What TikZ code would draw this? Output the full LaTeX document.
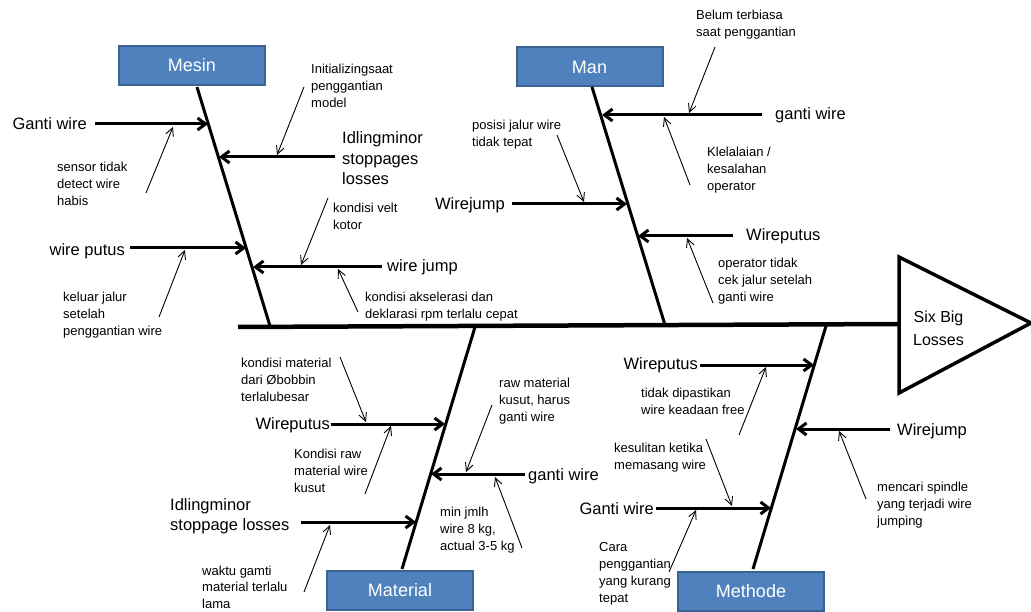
\documentclass[tikz,border=0pt]{standalone}
\usepackage{fontspec}
\setmainfont{Liberation Sans}
\usetikzlibrary{arrows.meta}
\definecolor{boxfill}{HTML}{4F81BD}
\definecolor{boxline}{HTML}{3A6391}
\tikzset{
  catbox/.style={draw=boxline, fill=boxfill, line width=2pt, minimum width=146pt, minimum height=39pt, inner sep=0pt, text=white, font=\fontsize{18}{20}\selectfont},
  bone/.style={line width=3pt},
  spine/.style={line width=4.5pt},
  branch/.style={line width=3pt, -{Straight Barb[length=8pt,width=12pt]}},
  sub/.style={line width=0.9pt, -{Straight Barb[length=8pt,width=8pt]}},
  bigtxt/.style={inner sep=0pt, font=\fontsize{16.5}{20.5}\selectfont},
  bigmulti/.style={anchor=north west, inner sep=0pt, align=left, font=\fontsize{16.5}{20.5}\selectfont},
  subtxt/.style={anchor=north west, inner sep=0pt, align=left, font=\fontsize{13}{17}\selectfont},
  headtxt/.style={inner sep=0pt, align=center, font=\fontsize{16}{23}\selectfont},
}
\begin{document}
\begin{tikzpicture}[x=1pt,y=-1pt]
\path[use as bounding box, fill=white] (0,0) rectangle (1031,612);

% head and spine
\coordinate (hA) at (899,257);
\coordinate (hB) at (1031,323);
\coordinate (hC) at (899,393);
\draw[line width=3.5pt] (hA) -- (hB) -- (hC) -- cycle;
\node[headtxt] (head) at (938.5,328) {Six Big\\Losses};
\coordinate (sp0) at (238,327);
\coordinate (sp1) at (899,324);
\draw[spine] (sp0) -- (sp1);

% category boxes
\node[catbox] (mesin) at (192,65.5) {Mesin};
\node[catbox] (man) at (589.5,67) {Man};
\node[catbox] (material) at (400,590.5) {Material};
\node[catbox] (methode) at (751,591) {Methode};

% bones
\coordinate (b1t) at (197,87);  \coordinate (b1b) at (270,326);
\coordinate (b2t) at (592,87);  \coordinate (b2b) at (665,325);
\coordinate (b3t) at (402,569); \coordinate (b3b) at (475,327);
\coordinate (b4t) at (753,569); \coordinate (b4b) at (826,326);
\draw[bone] (b1t) -- (b1b);
\draw[bone] (b2t) -- (b2b);
\draw[bone] (b3t) -- (b3b);
\draw[bone] (b4t) -- (b4b);

%================ MESIN
\node[bigtxt, anchor=base east] (m1) at (87,130) {Ganti wire};
\coordinate (m1s) at (95,124); \coordinate (m1e) at (208,124);
\draw[branch] (m1s) -- (m1e);
\node[subtxt] (m1a) at (57,162) {sensor tidak\\detect wire\\habis};
\coordinate (m1as) at (146,193); \coordinate (m1ae) at (173,127);
\draw[sub] (m1as) -- (m1ae);

\node[bigmulti] (m2) at (342,131.5) {Idlingminor\\stoppages\\losses};
\coordinate (m2s) at (335,157); \coordinate (m2e) at (219,157);
\draw[branch] (m2s) -- (m2e);
\node[subtxt] (m2a) at (311,64) {Initializingsaat\\penggantian\\model};
\coordinate (m2as) at (304,87); \coordinate (m2ae) at (277,155);
\draw[sub] (m2as) -- (m2ae);

\node[bigtxt, anchor=base east] (m3) at (125,256) {wire putus};
\coordinate (m3s) at (130,248); \coordinate (m3e) at (246,248);
\draw[branch] (m3s) -- (m3e);
\node[subtxt] (m3a) at (63,291.5) {keluar jalur\\setelah\\penggantian wire};
\coordinate (m3as) at (159,317); \coordinate (m3ae) at (185,250);
\draw[sub] (m3as) -- (m3ae);

\node[bigtxt, anchor=base west] (m4) at (387,272) {wire jump};
\coordinate (m4s) at (382,267); \coordinate (m4e) at (253,267);
\draw[branch] (m4s) -- (m4e);
\node[subtxt] (m4a) at (333,203) {kondisi velt\\kotor};
\coordinate (m4as) at (328,198); \coordinate (m4ae) at (301,265);
\draw[sub] (m4as) -- (m4ae);
\node[subtxt] (m4b) at (365,292) {kondisi akselerasi dan\\deklarasi rpm terlalu cepat};
\coordinate (m4bs) at (358,312); \coordinate (m4be) at (338,269);
\draw[sub] (m4bs) -- (m4be);

%================ MAN
\node[bigtxt, anchor=base west] (n1) at (775,120) {ganti wire};
\coordinate (n1s) at (762,115); \coordinate (n1e) at (602,115);
\draw[branch] (n1s) -- (n1e);
\node[subtxt] (n1a) at (696,10) {Belum terbiasa\\saat penggantian};
\coordinate (n1as) at (715,47); \coordinate (n1ae) at (689,113);
\draw[sub] (n1as) -- (n1ae);
\node[subtxt] (n1b) at (707,147) {Klelalaian /\\kesalahan\\operator};
\coordinate (n1bs) at (690,185); \coordinate (n1be) at (664,117);
\draw[sub] (n1bs) -- (n1be);

\node[bigtxt, anchor=base east] (n2) at (505,209.5) {Wirejump};
\coordinate (n2s) at (512,204); \coordinate (n2e) at (627,204);
\draw[branch] (n2s) -- (n2e);
\node[subtxt] (n2a) at (472,120) {posisi jalur wire\\tidak tepat};
\coordinate (n2as) at (557,135); \coordinate (n2ae) at (584,202);
\draw[sub] (n2as) -- (n2ae);

\node[bigtxt, anchor=base west] (n3) at (746,240.5) {Wireputus};
\coordinate (n3s) at (733,236); \coordinate (n3e) at (638,236);
\draw[branch] (n3s) -- (n3e);
\node[subtxt] (n3a) at (718,258) {operator tidak\\cek jalur setelah\\ganti wire};
\coordinate (n3as) at (713,303); \coordinate (n3ae) at (687,238);
\draw[sub] (n3as) -- (n3ae);

%================ MATERIAL
\node[bigtxt, anchor=base east] (t1) at (330,429.5) {Wireputus};
\coordinate (t1s) at (331,424); \coordinate (t1e) at (445,424);
\draw[branch] (t1s) -- (t1e);
\node[subtxt] (t1a) at (241,357.5) {kondisi material\\dari Øbobbin\\terlalubesar};
\coordinate (t1as) at (340,357); \coordinate (t1ae) at (366,422);
\draw[sub] (t1as) -- (t1ae);
\node[subtxt] (t1b) at (294,449) {Kondisi raw\\material wire\\kusut};
\coordinate (t1bs) at (365,494); \coordinate (t1be) at (391,426);
\draw[sub] (t1bs) -- (t1be);

\node[bigtxt, anchor=base west] (t2) at (528,480.5) {ganti wire};
\coordinate (t2s) at (525,474); \coordinate (t2e) at (431,474);
\draw[branch] (t2s) -- (t2e);
\node[subtxt] (t2a) at (499,378) {raw material\\kusut, harus\\ganti wire};
\coordinate (t2as) at (492,405); \coordinate (t2ae) at (466,472);
\draw[sub] (t2as) -- (t2ae);
\node[subtxt] (t2b) at (440,507) {min jmlh\\wire 8 kg,\\actual 3-5 kg};
\coordinate (t2bs) at (522,548); \coordinate (t2be) at (495,477);
\draw[sub] (t2bs) -- (t2be);

\node[bigmulti] (t3) at (170,498) {Idlingminor\\stoppage losses};
\coordinate (t3s) at (301,522); \coordinate (t3e) at (416,522);
\draw[branch] (t3s) -- (t3e);
\node[subtxt, font=\fontsize{13}{16.3}\selectfont] (t3a) at (202,566) {waktu gamti\\material terlalu\\lama};
\coordinate (t3as) at (304,592); \coordinate (t3ae) at (330,525);
\draw[sub] (t3as) -- (t3ae);

%================ METHODE
\node[bigtxt, anchor=base east] (d1) at (698,370) {Wireputus};
\coordinate (d1s) at (700,365); \coordinate (d1e) at (814,365);
\draw[branch] (d1s) -- (d1e);
\node[subtxt] (d1a) at (641,388) {tidak dipastikan\\wire keadaan free};
\coordinate (d1as) at (739,435); \coordinate (d1ae) at (766,367);
\draw[sub] (d1as) -- (d1ae);

\node[bigtxt, anchor=base west] (d2) at (897,435) {Wirejump};
\coordinate (d2s) at (890,429); \coordinate (d2e) at (796,429);
\draw[branch] (d2s) -- (d2e);
\node[subtxt] (d2a) at (877,482) {mencari spindle\\yang terjadi wire\\jumping};
\coordinate (d2as) at (866,499); \coordinate (d2ae) at (839,431);
\draw[sub] (d2as) -- (d2ae);

\node[bigtxt, anchor=base east] (d3) at (654,514) {Ganti wire};
\coordinate (d3s) at (656,508); \coordinate (d3e) at (771,508);
\draw[branch] (d3s) -- (d3e);
\node[subtxt] (d3a) at (614,443) {kesulitan ketika\\memasang wire};
\coordinate (d3as) at (706,439); \coordinate (d3ae) at (732,506);
\draw[sub] (d3as) -- (d3ae);
\node[subtxt] (d3b) at (599,542) {Cara\\penggantian\\yang kurang\\tepat};
\coordinate (d3bs) at (669,572); \coordinate (d3be) at (696,510);
\draw[sub] (d3bs) -- (d3be);
\end{tikzpicture}
\end{document}
